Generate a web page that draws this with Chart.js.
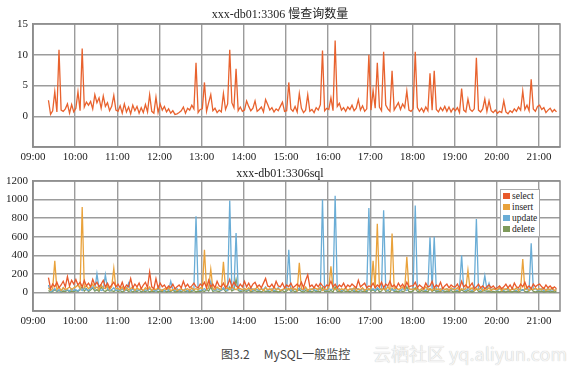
<!DOCTYPE html>
<html>
<head>
<meta charset="utf-8">
<script src="https://cdn.jsdelivr.net/npm/chart.js@4.4.1/dist/chart.umd.min.js"></script>
<style>
  body { margin: 0; background: #fff; width: 573px; height: 370px; position: relative; overflow: hidden; }
  canvas { position: absolute; left: 0; }
  #legend { position: absolute; left: 500px; top: 189px; width: 36px; padding: 1px 0 1px 2px; border: 1px solid #aaa; background: #fff;
            font: 9.5px "Liberation Serif", serif; color: #222; }
  #legend div { height: 11px; line-height: 11px; white-space: nowrap; }
  #legend span { display: inline-block; width: 7px; height: 6px; margin-right: 2px; }
  #caption { position: absolute; left: 221px; top: 345px; font: 12px "Noto Sans CJK SC", sans-serif; color: #444; white-space: nowrap; }
  #mark { position: absolute; left: 373px; top: 340px; font: 18px "Noto Sans CJK SC", sans-serif; color: #f4f4f4;
          text-shadow: 0 0 1px #bbb; white-space: nowrap; }
</style>
</head>
<body>
<canvas id="slowChart" width="573" height="162" style="top:0"></canvas>
<canvas id="sqlChart" width="573" height="172" style="top:162px"></canvas>
<div id="legend"></div>
<div id="caption">图3.2<span style="margin-left:14px">MySQL一般监控</span></div>
<div id="mark">云栖社区 yq.aliyun.com</div>
<script>
// x axis: minutes since midnight, one tick per hour
var hourLabels = ['09:00', '10:00', '11:00', '12:00', '13:00', '14:00', '15:00', '16:00', '17:00', '18:00', '19:00', '20:00', '21:00'];
var sampleStart = 562;   // first sample 09:22
var sampleStep = 3;      // minutes between samples

// 慢查询数量
var slowQueries = [
  2.6, 0.3, 0.9, 4.0, 0.7, 10.8, 1.0, 0.8, 1.2, 2.0, 0.5, 1.9, 0.7,
  1.3, 4.0, 0.9, 11.0, 1.5, 2.3, 1.8, 2.4, 1.2, 3.5, 2.2, 3.0, 1.3, 3.3, 1.6, 2.2, 0.9, 1.6, 3.4, 1.0,
  0.8, 1.7, 0.5, 2.0, 0.7, 1.5, 0.4, 1.8, 0.9, 1.6, 0.5, 1.4, 0.6, 1.9, 0.7, 3.5, 0.8, 0.5, 3.1, 0.6,
  2.0, 1.0, 1.6, 0.7, 1.2, 0.5, 0.9, 0.3, 0.4, 0.6, 0.9, 1.5, 0.5, 1.3, 1.0, 1.8, 1.2, 8.7, 0.6, 1.1,
  1.2, 5.5, 0.8, 2.2, 3.5, 0.9, 1.3, 0.6, 1.0, 0.7, 3.7, 1.1, 2.0, 10.8, 2.2, 1.4, 7.7, 0.9, 1.5, 0.8,
  1.0, 2.5, 1.6, 0.9, 1.3, 2.5, 0.8, 1.1, 1.5, 0.7, 2.7, 1.9, 1.0, 1.4, 0.7, 1.2, 0.9, 1.6, 2.3, 0.8,
  0.9, 5.5, 1.2, 0.8, 1.6, 0.7, 3.7, 1.3, 0.6, 1.0, 3.5, 0.8, 1.1, 0.6, 1.4, 1.0, 1.9, 10.7, 0.9, 1.3,
  1.1, 3.0, 0.9, 12.3, 1.6, 2.1, 1.0, 1.4, 0.8, 1.5, 1.1, 1.8, 0.9, 1.3, 2.7, 1.0, 1.7, 0.8, 1.2, 10.0,
  1.0, 4.2, 1.3, 8.7, 1.5, 0.9, 10.5, 1.8, 1.2, 0.8, 7.4, 1.0, 1.6, 2.2, 1.1, 2.0, 1.4, 4.1, 1.0, 0.8,
  1.2, 10.5, 1.4, 0.8, 1.3, 0.7, 1.5, 0.9, 7.0, 1.0, 7.4, 1.1, 0.7, 1.4, 0.9, 1.6, 0.8, 1.5, 0.7, 1.3,
  0.9, 1.4, 0.6, 4.5, 1.0, 0.7, 2.8, 1.1, 0.8, 1.2, 9.5, 1.0, 0.7, 1.2, 2.8, 0.8, 2.5, 0.9, 0.6, 1.0,
  0.5, 0.8, 0.6, 2.5, 0.7, 0.4, 0.9, 0.6, 1.2, 0.8, 1.5, 1.0, 4.1, 1.1, 1.8, 0.9, 6.0, 1.2, 0.8, 1.6,
  1.8, 1.1, 1.4, 0.6, 1.0, 1.3, 0.7, 1.1, 0.7
];

var selectCount = [
  160, 40, 90, 60, 110, 50, 80, 120, 60, 170, 70, 130, 90,
  140, 80, 110, 60, 130, 70, 100, 60, 140, 80, 110, 60, 90, 130, 60, 100, 50, 80, 110, 60,
  90, 50, 110, 40, 80, 60, 150, 50, 90, 60, 100, 40, 80, 110, 50, 220, 60, 40, 150, 50,
  100, 60, 80, 40, 70, 50, 90, 40, 60, 80, 50, 120, 60, 90, 50, 70, 100, 60, 50, 90,
  70, 110, 50, 130, 60, 90, 50, 120, 70, 60, 100, 50, 80, 140, 60, 110, 70, 50, 90, 60,
  120, 60, 100, 50, 90, 110, 60, 80, 50, 100, 150, 70, 60, 90, 50, 120, 70, 60, 100, 50,
  80, 60, 100, 50, 70, 90, 60, 110, 50, 130, 190, 60, 80, 50, 90, 60, 100, 70, 50, 80,
  70, 120, 60, 90, 50, 80, 60, 100, 50, 80, 60, 90, 70, 50, 130, 60, 80, 100, 50, 70,
  60, 100, 50, 80, 60, 110, 50, 90, 70, 120, 60, 80, 50, 100, 60, 90, 50, 110, 60, 70,
  70, 110, 50, 80, 60, 40, 100, 60, 70, 120, 50, 80, 60, 110, 40, 70, 90, 50, 80, 60,
  60, 90, 40, 120, 60, 80, 50, 70, 100, 40, 60, 90, 50, 70, 40, 60, 80, 50, 70, 40,
  50, 70, 40, 60, 90, 50, 80, 40, 100, 60, 50, 90, 60, 110, 50, 70, 40, 90, 60, 80,
  90, 60, 40, 80, 50, 70, 40, 60, 40
];

var insertCount = [
  50, 20, 40, 340, 30, 60, 20, 50, 30, 40, 60, 30, 50,
  60, 80, 40, 920, 50, 70, 40, 60, 90, 40, 60, 30, 80, 50, 40, 70, 30, 60, 260, 40,
  40, 30, 60, 20, 50, 30, 40, 60, 20, 50, 30, 40, 20, 50, 30, 60, 20, 40, 30, 50,
  30, 20, 40, 30, 50, 20, 30, 40, 20, 30, 40, 20, 30, 40, 20, 50, 30, 40, 30, 50,
  40, 460, 30, 50, 250, 40, 30, 60, 40, 30, 330, 40, 50, 30, 60, 40, 30, 50, 40, 30,
  40, 30, 50, 20, 40, 30, 60, 30, 40, 20, 50, 30, 40, 20, 60, 30, 40, 20, 30, 40,
  40, 30, 50, 30, 40, 20, 320, 40, 30, 60, 20, 40, 30, 50, 40, 30, 60, 20, 40, 30,
  50, 280, 40, 30, 50, 20, 40, 30, 50, 20, 40, 30, 50, 20, 40, 30, 50, 20, 40, 30,
  40, 340, 40, 740, 50, 30, 40, 30, 60, 30, 635, 40, 50, 30, 40, 60, 30, 385, 40, 30,
  40, 30, 50, 20, 40, 30, 60, 30, 40, 20, 50, 30, 40, 20, 50, 30, 40, 20, 50, 30,
  30, 50, 20, 40, 30, 40, 240, 30, 50, 20, 40, 30, 50, 20, 40, 30, 50, 20, 40, 30,
  30, 50, 20, 40, 30, 50, 20, 40, 30, 50, 20, 40, 360, 30, 50, 20, 40, 30, 50, 30,
  40, 30, 50, 20, 40, 30, 50, 20, 30
];

var updateCount = [
  80, 10, 20, 40, 15, 30, 10, 50, 20, 30, 15, 40, 20,
  30, 15, 40, 20, 50, 30, 20, 40, 60, 30, 200, 40, 20, 30, 190, 40, 20, 30, 50, 20,
  30, 20, 40, 15, 30, 100, 20, 40, 15, 30, 20, 40, 15, 30, 20, 40, 20, 30, 15, 40,
  20, 30, 15, 40, 20, 120, 30, 20, 40, 15, 30, 20, 40, 15, 30, 20, 40, 820, 30, 20,
  30, 40, 20, 50, 120, 30, 20, 40, 30, 20, 50, 30, 20, 990, 40, 30, 640, 40, 20, 30,
  40, 20, 30, 50, 20, 40, 30, 20, 40, 30, 60, 20, 30, 40, 20, 30, 50, 20, 30, 40,
  30, 460, 20, 40, 30, 20, 50, 30, 20, 40, 30, 20, 40, 30, 20, 40, 30, 1000, 30, 20,
  40, 30, 40, 1040, 30, 40, 20, 30, 40, 20, 30, 40, 20, 50, 30, 20, 40, 30, 20, 910,
  30, 40, 20, 50, 30, 40, 885, 30, 20, 40, 30, 20, 40, 30, 20, 40, 30, 20, 40, 30,
  40, 935, 30, 20, 40, 30, 20, 40, 595, 30, 600, 20, 30, 40, 20, 30, 40, 20, 30, 40,
  30, 20, 40, 400, 30, 20, 40, 30, 20, 40, 790, 30, 20, 40, 180, 30, 100, 20, 40, 30,
  20, 40, 30, 20, 40, 30, 20, 40, 30, 20, 40, 30, 20, 40, 30, 20, 530, 30, 40, 20,
  30, 40, 20, 30, 40, 20, 30, 20, 30
];

var deleteCount = [
  20, 5, 10, 30, 10, 20, 5, 15, 10, 25, 5, 15, 10,
  20, 10, 30, 60, 15, 40, 10, 25, 50, 15, 30, 10, 60, 20, 10, 30, 15, 20, 10, 25,
  10, 20, 5, 15, 30, 10, 20, 5, 15, 10, 25, 5, 15, 10, 20, 5, 15, 10, 20, 5,
  15, 10, 20, 5, 15, 10, 25, 5, 10, 15, 5, 20, 10, 15, 5, 10, 20, 5, 15, 10,
  20, 10, 30, 15, 60, 10, 20, 15, 10, 25, 40, 10, 20, 60, 15, 30, 140, 20, 10, 15,
  20, 10, 25, 5, 15, 20, 10, 15, 5, 20, 10, 15, 5, 20, 10, 15, 5, 10, 20, 5,
  15, 40, 10, 20, 5, 15, 30, 10, 5, 20, 10, 15, 5, 20, 10, 15, 5, 50, 10, 15,
  10, 20, 5, 60, 10, 15, 5, 20, 10, 15, 5, 20, 10, 15, 5, 20, 10, 15, 5, 40,
  15, 30, 10, 40, 5, 15, 50, 10, 20, 5, 40, 10, 15, 5, 20, 10, 15, 60, 10, 5,
  15, 50, 10, 5, 20, 10, 15, 5, 40, 10, 30, 5, 15, 10, 20, 5, 15, 10, 20, 5,
  10, 15, 5, 30, 10, 5, 20, 10, 5, 15, 40, 10, 5, 15, 20, 10, 15, 5, 10, 5,
  10, 5, 15, 10, 5, 15, 10, 5, 15, 10, 5, 15, 30, 10, 5, 15, 40, 10, 5, 10,
  10, 15, 5, 10, 15, 5, 10, 5, 10
];

var sqlNames = ['select', 'insert', 'update', 'delete'];
var sqlColors = ['#e8592b', '#e9a23b', '#6aadd6', '#7e9a5b'];

var serif = '"Liberation Serif", "Times New Roman", "Noto Sans CJK SC", serif';

function toPoints(values) {
  return values.map(function (v, i) {
    return { x: sampleStart + i * sampleStep, y: v };
  });
}

// draws the box round the plot area
var framePlugin = {
  id: 'frame',
  afterDatasetsDraw: function (chart) {
    var a = chart.chartArea;
    var ctx = chart.ctx;
    ctx.save();
    ctx.strokeStyle = '#8c8c8c';
    ctx.lineWidth = 1.5;
    ctx.strokeRect(a.left, a.top, a.right - a.left, a.bottom - a.top);
    ctx.restore();
  }
};

function makeOptions(title, titlePad, yMin, yMax, yStep, xHeight) {
  return {
    responsive: false,
    animation: false,
    devicePixelRatio: 1,
    layout: { padding: { left: 0, right: 13, top: 0, bottom: 0 } },
    elements: { point: { radius: 0 }, line: { borderWidth: 1.3, tension: 0 } },
    plugins: {
      legend: { display: false },
      tooltip: { enabled: false },
      title: {
        display: true, text: title, color: '#222',
        font: { family: serif, size: 12, weight: 'normal', lineHeight: 1 },
        padding: titlePad
      }
    },
    scales: {
      x: {
        type: 'linear', min: 540, max: 1290,
        afterFit: function (s) { s.height = xHeight; },
        grid: { color: '#9c9c9c', lineWidth: 1.4, drawTicks: false },
        border: { color: '#8c8c8c', width: 1.5 },
        ticks: {
          stepSize: 60, includeBounds: false, autoSkip: false, maxRotation: 0, padding: 4,
          color: '#222', font: { family: serif, size: 11 },
          callback: function (v) { return hourLabels[Math.round((v - 540) / 60)] || ''; }
        }
      },
      y: {
        min: yMin, max: yMax,
        afterFit: function (s) { s.width = 33; },
        grid: { color: '#9c9c9c', lineWidth: 1.4, drawTicks: false },
        border: { color: '#8c8c8c', width: 1.5 },
        ticks: {
          stepSize: yStep, padding: 5, color: '#222', font: { family: serif, size: 11 },
          callback: function (v) { return v < 0 ? '' : v; }
        }
      }
    }
  };
}

new Chart(document.getElementById('slowChart'), {
  type: 'line',
  data: {
    datasets: [{ label: '慢查询数量', data: toPoints(slowQueries), borderColor: '#e8622e', fill: false }]
  },
  options: makeOptions('xxx-db01:3306 慢查询数量', { top: 9, bottom: 3 }, -5, 15, 5, 15),
  plugins: [framePlugin]
});

var sqlSeries = [selectCount, insertCount, updateCount, deleteCount];
new Chart(document.getElementById('sqlChart'), {
  type: 'line',
  data: {
    datasets: sqlSeries.map(function (vals, i) {
      return { label: sqlNames[i], data: toPoints(vals), borderColor: sqlColors[i], backgroundColor: sqlColors[i], fill: false };
    })
  },
  options: makeOptions('xxx-db01:3306sql', { top: 6, bottom: 1 }, -200, 1200, 200, 23),
  plugins: [framePlugin]
});

// legend box inside the lower plot
var legend = document.getElementById('legend');
sqlNames.forEach(function (name, i) {
  var row = document.createElement('div');
  row.innerHTML = '<span style="background:' + sqlColors[i] + '"></span>' + name;
  legend.appendChild(row);
});
</script>
</body>
</html>
